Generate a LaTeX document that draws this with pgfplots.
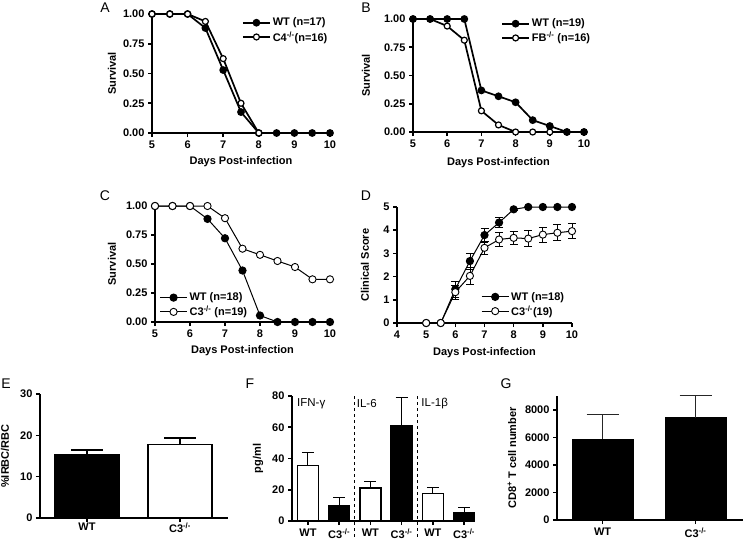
\documentclass[border=0pt]{standalone}
\usepackage{fontspec}
\setmainfont{Liberation Sans}
\usepackage{pgfplots}
\pgfplotsset{compat=1.18}
\newcommand{\ko}{\textsuperscript{-/-}}
\newcommand{\lblfont}{\bfseries\fontsize{11}{13}\selectfont}
\pgfplotsset{
  gp/.style={
    scale only axis, anchor=south west,
    axis x line*=bottom, axis y line*=left,
    axis line style={line width=1.6pt},
    tick align=outside, major tick length=4pt,
    every tick/.style={black, line width=1.6pt},
    font=\lblfont,
    tick label style={font=\lblfont},
    /pgf/number format/assume math mode=true,
    clip=false,
    legend cell align=left,
    legend style={draw=none, fill=none, inner sep=0pt, row sep=0pt, font=\lblfont},
    legend image code/.code={\draw[mark repeat=2,mark phase=2,##1] plot coordinates {(0pt,0pt) (13.5pt,0pt) (27pt,0pt)};},
    ylabel style={anchor=center},
    xlabel style={anchor=center},
  },
  surv/.style={xmin=5,xmax=10,ymin=0,ymax=1, xtick={5,...,10},
    ytick={0,0.25,0.5,0.75,1}, yticklabels={0.00,0.25,0.50,0.75,1.00},
    xlabel={Days Post-infection}, ylabel={Survival}},
  wtA/.style={black, line width=1.7pt, mark=*, mark size=3pt, mark options={solid, fill=black}},
  koA/.style={black, line width=1.7pt, mark=*, mark size=3pt, mark options={solid, fill=white, line width=1.2pt}},
  wtC/.style={black, line width=1pt, mark=*, mark size=3.6pt, mark options={solid, fill=black}},
  koC/.style={black, line width=1pt, mark=*, mark size=3.6pt, mark options={solid, fill=white, line width=0.9pt}},
}
\begin{document}
\begin{tikzpicture}
\useasboundingbox (0,0) rectangle (745pt,-539pt);
% panel letters
\node[font=\fontsize{14}{16}\selectfont] at (105pt,-8pt) {A};
\node[font=\fontsize{14}{16}\selectfont] at (366pt,-8pt) {B};
\node[font=\fontsize{14}{16}\selectfont] at (105pt,-196pt) {C};
\node[font=\fontsize{14}{16}\selectfont] at (366pt,-196pt) {D};
\node[font=\fontsize{14}{16}\selectfont] at (6pt,-384pt) {E};
\node[font=\fontsize{14}{16}\selectfont] at (250pt,-384pt) {F};
\node[font=\fontsize{14}{16}\selectfont] at (506pt,-384pt) {G};

% ---------- A ----------
\begin{axis}[gp, surv, at={(152pt,-133pt)}, width=178pt, height=119pt,
  xlabel style={at={(axis description cs:0.5,-0.244)}},
  ylabel style={at={(axis description cs:-0.225,0.5)}},
  legend style={at={(rel axis cs:0.505,0.985)}, anchor=north west}]
\addplot[wtA] coordinates {(5,1) (5.5,1) (6,1) (6.5,0.882) (7,0.529) (7.5,0.176) (8,0) (8.5,0) (9,0) (9.5,0) (10,0)};
\addlegendentry{WT (n=17)}
\addplot[koA] coordinates {(5,1) (5.5,1) (6,1) (6.5,0.9375) (7,0.625) (7.5,0.25) (8,0)};
\addlegendentry{C4\ko(n=16)}
\end{axis}

% ---------- B ----------
\begin{axis}[gp, surv, at={(413pt,-132pt)}, width=171pt, height=113pt,
  xlabel style={at={(axis description cs:0.5,-0.274)}},
  ylabel style={at={(axis description cs:-0.275,0.5)}},
  reverse legend,
  legend style={at={(rel axis cs:0.515,1.02)}, anchor=north west}]
\addplot[koA] coordinates {(5,1) (5.5,1) (6,0.9375) (6.5,0.8125) (7,0.1875) (7.5,0.0625) (8,0) (8.5,0) (9,0) (9.5,0) (10,0)};
\addlegendentry{FB\ko\ (n=16)}
\addplot[wtA] coordinates {(5,1) (5.5,1) (6,1) (6.5,1) (7,0.368) (7.5,0.316) (8,0.263) (8.5,0.105) (9,0.053) (9.5,0) (10,0)};
\addlegendentry{WT (n=19)}
\end{axis}

% ---------- C ----------
\begin{axis}[gp, surv, at={(155pt,-322pt)}, width=175pt, height=116pt,
  xlabel style={at={(axis description cs:0.5,-0.247)}},
  ylabel style={at={(axis description cs:-0.246,0.5)}},
  legend style={at={(rel axis cs:0.025,0.27)}, anchor=north west}]
\addplot[wtC] coordinates {(5,1) (5.5,1) (6,1) (6.5,0.889) (7,0.722) (7.5,0.444) (8,0.056) (8.5,0) (9,0) (9.5,0) (10,0)};
\addlegendentry{WT (n=18)}
\addplot[koC] coordinates {(5,1) (5.5,1) (6,1) (6.5,1) (7,0.895) (7.5,0.632) (8,0.579) (8.5,0.526) (9,0.474) (9.5,0.368) (10,0.368)};
\addlegendentry{C3\ko\ (n=19)}
\end{axis}

% ---------- D ----------
\begin{axis}[gp, at={(397pt,-323pt)}, width=175pt, height=116pt,
  xmin=4, xmax=10, ymin=0, ymax=5, xtick={4,...,10}, ytick={0,...,5},
  xlabel={Days Post-infection}, ylabel={Clinical Score},
  xlabel style={at={(axis description cs:0.5,-0.259)}},
  ylabel style={at={(axis description cs:-0.183,0.5)}},
  legend style={at={(rel axis cs:0.48,0.285)}, anchor=north west}]
\addplot[wtC, error bars/.cd, y dir=both, y explicit,
  error bar style={line width=0.8pt}, error mark options={rotate=90, mark size=4pt, line width=0.8pt}]
  coordinates {(5,0) (5.5,0) (6,1.46) +- (0,0.35) (6.5,2.67) +- (0,0.34) (7,3.79) +- (0,0.3) (7.5,4.33) +- (0,0.22) (8,4.9) +- (0,0.05) (8.5,5) (9,5) (9.5,5) (10,5)};
\addlegendentry{WT (n=18)}
\addplot[koC, error bars/.cd, y dir=both, y explicit,
  error bar style={line width=0.8pt}, error mark options={rotate=90, mark size=4pt, line width=0.8pt}]
  coordinates {(5,0) (5.5,0) (6,1.33) +- (0,0.3) (6.5,2.03) +- (0,0.36) (7,3.24) +- (0,0.27) (7.5,3.6) +- (0,0.29) (8,3.67) +- (0,0.3) (8.5,3.64) +- (0,0.34) (9,3.81) +- (0,0.33) (9.5,3.89) +- (0,0.34) (10,3.96) +- (0,0.32)};
\addlegendentry{C3\ko(19)}
\end{axis}

% ---------- E ----------
\begin{axis}[gp, at={(40pt,-518pt)}, width=188pt, height=124pt,
  xmin=0.495, xmax=2.516, ymin=0, ymax=30, ytick={0,10,20,30},
  xtick={1,2}, xticklabels={WT, C3\ko}, xticklabel style={yshift=3pt},
  ylabel={\%IRBC/RBC},
  ylabel style={at={(axis description cs:-0.186,0.5)}}]
\addplot[ybar, bar width=64pt, bar shift=0pt, fill=black, draw=black, line width=1.6pt,
  error bars/.cd, y dir=plus, y explicit, error bar style={line width=1.6pt},
  error mark options={rotate=90, mark size=16pt, line width=1.6pt}]
  coordinates {(1,15.3) +- (0,1.2)};
\addplot[ybar, bar width=64pt, bar shift=0pt, fill=white, draw=black, line width=1.6pt,
  error bars/.cd, y dir=plus, y explicit, error bar style={line width=1.6pt},
  error mark options={rotate=90, mark size=16pt, line width=1.6pt}]
  coordinates {(2,17.8) +- (0,1.5)};
\end{axis}

% ---------- F ----------
\begin{axis}[gp, at={(292pt,-521pt)}, width=183pt, height=125pt,
  xmin=0.49, xmax=6.35, ymin=0, ymax=80, ytick={0,20,40,60,80},
  xtick={1,...,6}, xticklabels={WT, C3\ko, WT, C3\ko, WT, C3\ko},
  ylabel={pg/ml},
  ylabel style={at={(axis description cs:-0.186,0.5)}}]
\addplot[ybar, bar width=21pt, bar shift=0pt, fill=white, draw=black, line width=1.6pt,
  error bars/.cd, y dir=plus, y explicit, error bar style={line width=0.9pt},
  error mark options={rotate=90, mark size=6pt, line width=0.9pt}]
  coordinates {(1,35.5) +- (0,8.5) (3,21) +- (0,4.5) (5,17.5) +- (0,4)};
\addplot[ybar, bar width=21pt, bar shift=0pt, fill=black, draw=black, line width=1.6pt,
  error bars/.cd, y dir=plus, y explicit, error bar style={line width=0.9pt},
  error mark options={rotate=90, mark size=6pt, line width=0.9pt}]
  coordinates {(2,10) +- (0,5) (4,61) +- (0,18) (6,5) +- (0,3.5)};
\draw[dashed, line width=0.8pt] (axis cs:2.5,80) -- (axis cs:2.5,-11.5);
\draw[dashed, line width=0.8pt] (axis cs:4.5,80) -- (axis cs:4.5,-11.5);
\node[anchor=west, inner sep=0pt, font=\mdseries\fontsize{11.5}{13}\selectfont] at (axis cs:0.65,75) {IFN-γ};
\node[anchor=west, inner sep=0pt, font=\mdseries\fontsize{11.5}{13}\selectfont] at (axis cs:2.56,75) {IL-6};
\node[anchor=west, inner sep=0pt, font=\mdseries\fontsize{11.5}{13}\selectfont] at (axis cs:4.63,75) {IL-1β};
\end{axis}

% ---------- G ----------
\begin{axis}[gp, at={(557pt,-520pt)}, width=186pt, height=124pt,
  xmin=0.51, xmax=2.51, ymin=0, ymax=9000, ytick={0,2000,4000,6000,8000},
  /pgf/number format/1000 sep={},
  xtick={1,2}, xticklabels={WT, C3\ko},
  ylabel={CD8\textsuperscript{+} T cell number},
  ylabel style={at={(axis description cs:-0.242,0.5)}}]
\addplot[ybar, bar width=61pt, bar shift=0pt, fill=black, draw=black, line width=0.5pt,
  error bars/.cd, y dir=plus, y explicit, error bar style={line width=0.9pt, black!85},
  error mark options={rotate=90, mark size=16pt, line width=0.9pt, black!85}]
  coordinates {(1,5870) +- (0,1810) (2,7440) +- (0,1580)};
\end{axis}
\end{tikzpicture}
\end{document}
